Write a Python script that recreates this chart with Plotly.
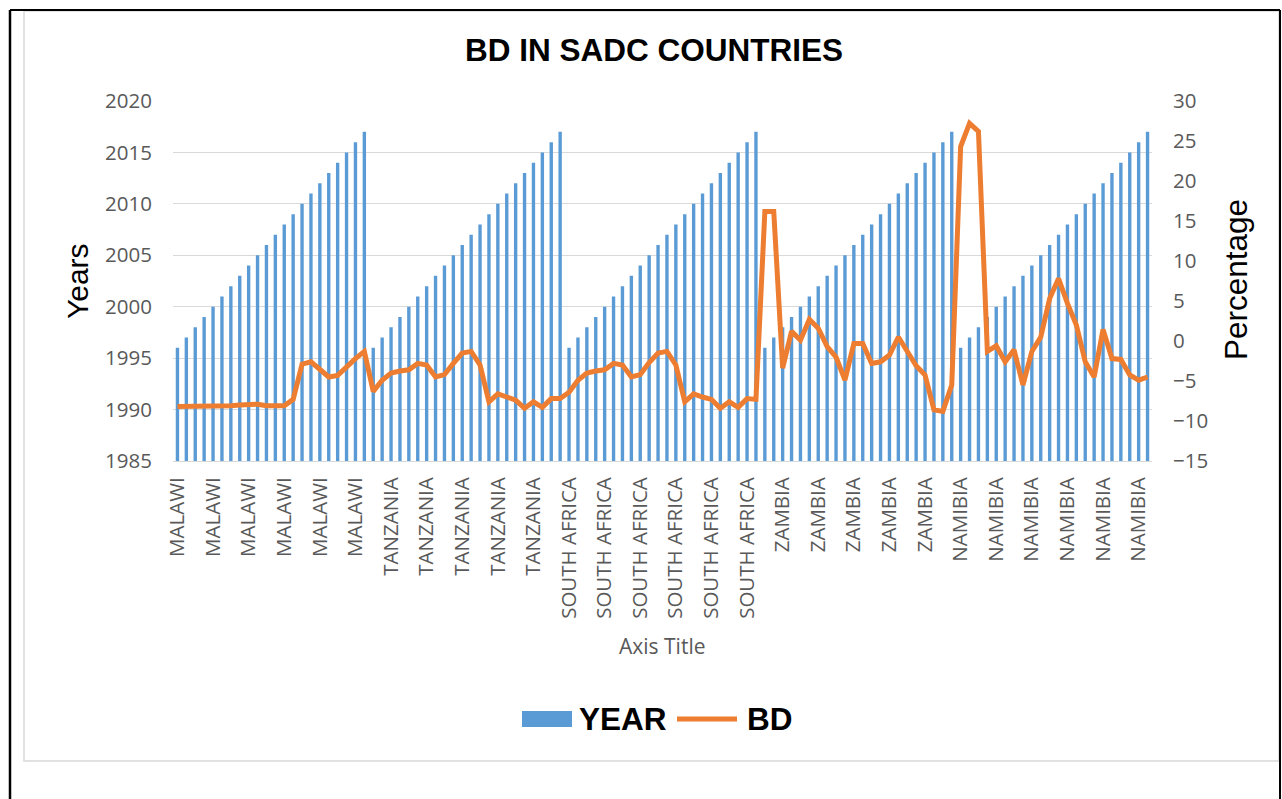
import plotly.graph_objects as go

# ---------------- data ----------------
countries = ["MALAWI", "TANZANIA", "SOUTH AFRICA", "ZAMBIA", "NAMIBIA"]
years = list(range(1996, 2018))

bd_malawi = [-8.2, -8.2, -8.2, -8.2, -8.15, -8.1, -8.1, -8.0, -7.9, -7.9, -8.1,
             -8.1, -8.1, -7.3, -2.9, -2.6, -3.6, -4.5, -4.3, -3.2, -2.2, -1.3]
bd_tanzania = [-6.3, -4.9, -4.0, -3.75, -3.6, -2.8, -3.0, -4.5, -4.2, -2.8, -1.5,
               -1.3, -3.0, -7.6, -6.6, -7.0, -7.4, -8.4, -7.6, -8.3, -7.2, -7.2]
bd_south_africa = [-6.4, -4.9, -4.0, -3.75, -3.6, -2.8, -3.0, -4.5, -4.2, -2.7, -1.5,
                   -1.3, -3.0, -7.6, -6.6, -7.0, -7.3, -8.4, -7.6, -8.3, -7.2, -7.3]
bd_zambia = [16.2, 16.2, -3.4, 1.2, 0.1, 2.7, 1.6, -0.7, -2.0, -4.9, -0.3,
             -0.3, -2.8, -2.6, -1.75, 0.5, -1.3, -3.1, -4.25, -8.6, -8.8, -5.5]
bd_namibia = [24.3, 27.2, 26.2, -1.3, -0.6, -2.6, -1.1, -5.5, -1.3, 0.5, 5.3,
              7.8, 4.7, 2.0, -2.6, -4.5, 1.45, -2.2, -2.3, -4.25, -4.9, -4.5]

bd_by_country = [bd_malawi, bd_tanzania, bd_south_africa, bd_zambia, bd_namibia]

# flatten into category sequence
cat_country = []
cat_year = []
cat_bd = []
for c, bd in zip(countries, bd_by_country):
    for y, v in zip(years, bd):
        cat_country.append(c)
        cat_year.append(y)
        cat_bd.append(v)
idx = list(range(len(cat_country)))

# ---------------- layout geometry (pixels) ----------------
W, H = 1282, 799
PL, PR, PT, PB = 173, 1152, 101, 461
PW, PH = PR - PL, PB - PT


def px(x):
    return (x - PL) / PW


def py(y):
    return (PB - y) / PH


BLUE = "#5B9BD5"
ORANGE = "#ED7D31"
GRAY_TXT = "#595959"
GRID = "#D9D9D9"

fig = go.Figure()
fig.add_trace(go.Bar(x=idx, y=cat_year, name="YEAR", marker_color=BLUE,
                     marker_line_width=0, yaxis="y"))
fig.add_trace(go.Scatter(x=idx, y=cat_bd, name="BD", mode="lines",
                         line=dict(color=ORANGE, width=5, shape="linear"),
                         yaxis="y2"))

fig.update_layout(
    width=W, height=H,
    margin=dict(l=PL, r=W - PR, t=PT, b=H - PB, pad=0),
    paper_bgcolor="white", plot_bgcolor="white",
    showlegend=False,
    bargap=0.62,
    font=dict(family="Open Sans", color=GRAY_TXT, size=20),
    xaxis=dict(range=[-0.5, len(idx) - 0.5],
               tickmode="array", tickvals=idx[::4], ticktext=cat_country[::4],
               tickangle=-90, showgrid=False, zeroline=False,
               showline=True, linecolor=GRID, linewidth=1,
               ticks="", ticklabelstandoff=7,
               tickfont=dict(family="Open Sans", size=20.5, color=GRAY_TXT)),
    yaxis=dict(range=[1985, 2020], dtick=5, tick0=1985,
               showgrid=True, gridcolor=GRID, gridwidth=1.3, zeroline=False,
               showline=False, ticks="", ticklabelstandoff=20,
               tickfont=dict(family="Open Sans", size=20.5, color=GRAY_TXT)),
    yaxis2=dict(range=[-15, 30], dtick=5, tick0=-15, overlaying="y",
                side="right", showgrid=False, zeroline=False, showline=False,
                ticks="", ticklabelstandoff=20,
                tickfont=dict(family="Open Sans", size=20.5, color=GRAY_TXT)),
)

# ---------------- texts ----------------
ann = [
    dict(text="<b>BD IN SADC COUNTRIES</b>", x=px(654), y=py(50),
         font=dict(family="Liberation Sans", size=31.5, color="black")),
    dict(text="Years", x=px(77), y=py(281), textangle=-90,
         font=dict(family="Liberation Sans", size=30, color="black")),
    dict(text="Percentage", x=px(1236), y=py(280), textangle=-90,
         font=dict(family="Liberation Sans", size=31.5, color="black")),
    dict(text="Axis Title", x=px(662), y=py(646),
         font=dict(family="Open Sans", size=21, color=GRAY_TXT)),
    dict(text="<b>YEAR</b>", x=px(577), y=py(719), xanchor="left",
         font=dict(family="Liberation Sans", size=31.5, color="black")),
    dict(text="<b>BD</b>", x=px(745), y=py(719), xanchor="left",
         font=dict(family="Liberation Sans", size=31.5, color="black")),
]
for a in ann:
    a.setdefault("xanchor", "center")
    fig.add_annotation(xref="paper", yref="paper", yanchor="middle",
                       showarrow=False, **a)

# ---------------- frame & legend swatches ----------------
shapes = [
    # chart area border (light gray)
    dict(type="rect", x0=px(24), x1=px(1279), y0=py(11), y1=py(761),
         line=dict(color="#D9D9D9", width=1.5), fillcolor="rgba(0,0,0,0)"),
    # outer black frame
    dict(type="line", x0=px(10), x1=px(10), y0=py(10), y1=py(799),
         line=dict(color="black", width=2.5)),
    dict(type="line", x0=px(10), x1=px(1280), y0=py(10), y1=py(10),
         line=dict(color="black", width=2)),
    dict(type="line", x0=px(1280), x1=px(1280), y0=py(10), y1=py(799),
         line=dict(color="black", width=2)),
    # legend swatches
    dict(type="rect", x0=px(522), x1=px(572), y0=py(711), y1=py(727),
         line=dict(width=0), fillcolor=BLUE),
    dict(type="line", x0=px(677), x1=px(737), y0=py(719), y1=py(719),
         line=dict(color=ORANGE, width=5)),
]
for s in shapes:
    fig.add_shape(xref="paper", yref="paper", layer="above", **s)

fig.write_html("out.html", config={"displayModeBar": False},
               post_script="document.body.style.margin='0';document.body.style.overflow='hidden';")
